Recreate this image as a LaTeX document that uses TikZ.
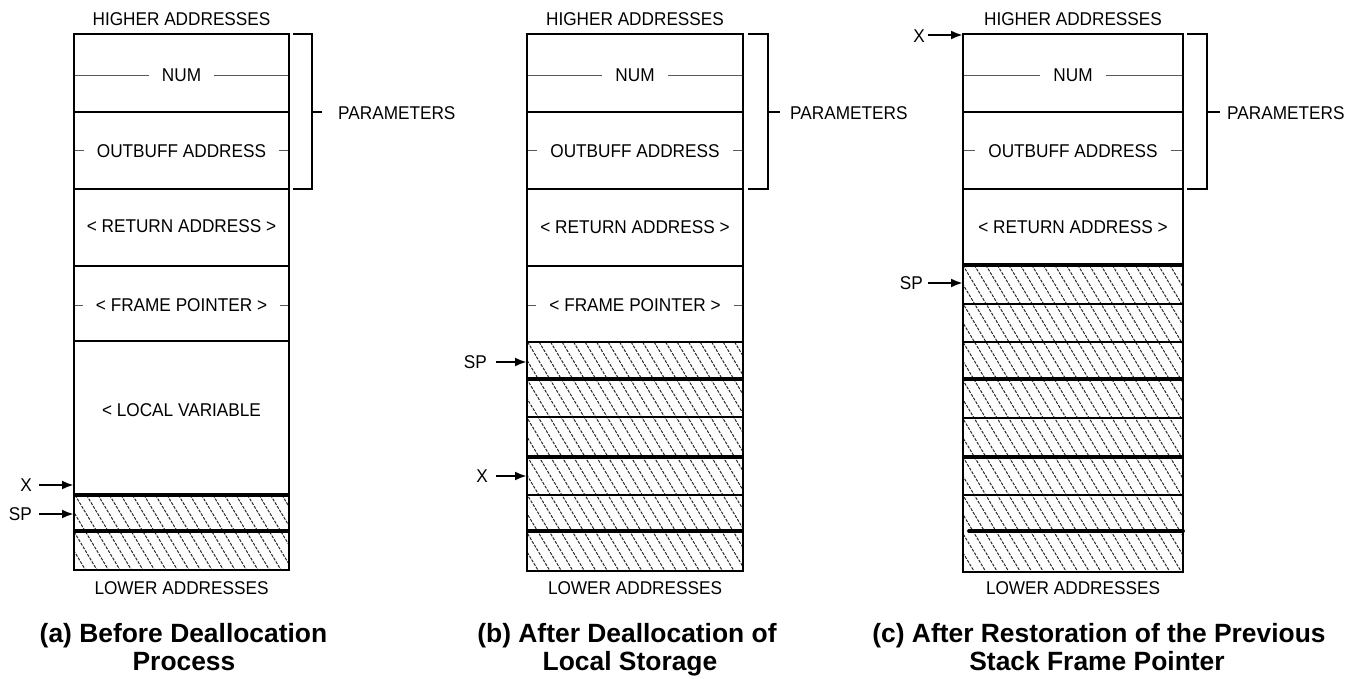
\documentclass[tikz,border=0pt]{standalone}
\usepackage{fontspec}
\setmainfont{Liberation Sans}
\newfontfamily\labfont[FakeStretch=0.93]{Liberation Sans}
\usetikzlibrary{arrows.meta}
\tikzset{
 lab/.style={font=\labfont\fontsize{18.5}{20}\selectfont, inner sep=0pt},
 masked/.style={lab, fill=white, inner xsep=13pt, inner ysep=2pt},
 capt/.style={font=\bfseries\fontsize{26.4}{28}\selectfont, inner sep=0pt, anchor=base},
 midline/.style={line width=1pt, black!65},
 sepn/.style={line width=2.2pt},
 sept/.style={line width=3.8pt},
 outerbox/.style={line width=2.5pt},
 bracketline/.style={line width=2.4pt},
 ptr/.style={line width=2.6pt, -{Latex[length=12pt,width=9pt]}},
 hatchline/.style={line width=1pt, black!85, dash pattern=on 3pt off 1.3pt},
}
\newcommand\hatchbox[4]{%
 \begin{scope}
 \clip (#1,#2) rectangle (#3,#4);
 \pgfmathsetmacro\hh{#4-#2}
 \pgfmathsetmacro\xs{#1-0.6*\hh}
 \pgfmathsetmacro\xsb{\xs+11.5}
 \foreach \xx in {\xs,\xsb,...,#3} { \draw[hatchline] (\xx,#2) -- ++(0.6*\hh,\hh); }
 \end{scope}}
\begin{document}
\begin{tikzpicture}[x=1pt,y=-1pt]
\useasboundingbox (0,0) rectangle (1359,679);

% ================= Panel (a) =================
\hatchbox{74}{495}{289}{570}
\node[lab] (aHi) at (181.5,19.5) {HIGHER ADDRESSES};
\draw[midline] (74,75.5) -- (289,75.5);
\node[masked] (aNum) at (181.5,75.5) {NUM};
\draw[midline] (74,151) -- (289,151);
\node[masked] (aOut) at (181.5,151) {OUTBUFF ADDRESS};
\node[lab] (aRet) at (181.5,226.5) {< RETURN ADDRESS >};
\draw[midline] (74,305) -- (289,305);
\node[masked] (aFp) at (181.5,305) {< FRAME POINTER >};
\node[lab] (aLoc) at (181.5,410) {< LOCAL VARIABLE};
\node[lab] (aLo) at (181.5,588) {LOWER ADDRESSES};
\draw[sepn] (74,112) -- (289,112);
\draw[sepn] (74,189) -- (289,189);
\draw[sepn] (74,266) -- (289,266);
\draw[sepn] (74,341) -- (289,341);
\draw[sept] (74,495) -- (289,495);
\draw[sept] (74,531) -- (289,531);
\draw[outerbox] (74,34) rectangle (289,570);
\draw[bracketline] (293,34) -- (312,34) -- (312,189) -- (293,189);
\draw[bracketline] (312,112) -- (322,112);
\node[lab, anchor=west] (aPar) at (338,113.5) {PARAMETERS};
\coordinate (aXt) at (74,485);
\coordinate (aSPt) at (74,514);
\node[lab, anchor=east] (aX) at (32,485) {X};
\node[lab, anchor=east] (aSP) at (32,514.5) {SP};
\draw[ptr, shorten <=7pt] (aX.east) -- (aXt);
\draw[ptr, shorten <=7pt] (aSP.east |- aSPt) -- (aSPt);
\node[capt] (aCap1) at (183.5,642) {(a) Before Deallocation};
\node[capt] (aCap2) at (184,670) {Process};

% ================= Panel (b) =================
\hatchbox{527}{342}{743}{571}
\node[lab] (bHi) at (635,19.5) {HIGHER ADDRESSES};
\draw[midline] (527,75.5) -- (743,75.5);
\node[masked] (bNum) at (635,75.5) {NUM};
\draw[midline] (527,151) -- (743,151);
\node[masked] (bOut) at (635,151) {OUTBUFF ADDRESS};
\node[lab] (bRet) at (635,227) {< RETURN ADDRESS >};
\draw[midline] (527,305) -- (743,305);
\node[masked] (bFp) at (635,305) {< FRAME POINTER >};
\node[lab] (bLo) at (635,588) {LOWER ADDRESSES};
\draw[sepn] (527,112) -- (743,112);
\draw[sepn] (527,189) -- (743,189);
\draw[sepn] (527,266) -- (743,266);
\draw[line width=2.8pt] (527,342) -- (743,342);
\draw[sept] (527,379) -- (743,379);
\draw[sepn] (527,417) -- (743,417);
\draw[sept] (527,457) -- (743,457);
\draw[sepn] (527,495) -- (743,495);
\draw[sept] (527,531) -- (743,531);
\draw[outerbox] (527,34) rectangle (743,571);
\draw[bracketline] (748,34) -- (768,34) -- (768,189) -- (748,189);
\draw[bracketline] (768,112) -- (780,112);
\node[lab, anchor=west] (bPar) at (790,113.5) {PARAMETERS};
\coordinate (bSPt) at (527,362);
\coordinate (bXt) at (527,476);
\node[lab, anchor=east] (bSP) at (487,362) {SP};
\node[lab, anchor=east] (bX) at (488,476) {X};
\draw[ptr, shorten <=9pt] (bSP.east) -- (bSPt);
\draw[ptr, shorten <=8pt] (bX.east) -- (bXt);
\node[capt] (bCap1) at (627,642) {(b) After Deallocation of};
\node[capt] (bCap2) at (630,670) {Local Storage};

% ================= Panel (c) =================
\hatchbox{963}{265}{1183}{572}
\node[lab] (cHi) at (1073,19.5) {HIGHER ADDRESSES};
\draw[midline] (963,75.5) -- (1183,75.5);
\node[masked] (cNum) at (1073,75.5) {NUM};
\draw[midline] (963,151) -- (1183,151);
\node[masked] (cOut) at (1073,151) {OUTBUFF ADDRESS};
\node[lab] (cRet) at (1073,227) {< RETURN ADDRESS >};
\node[lab] (cLo) at (1073,588) {LOWER ADDRESSES};
\draw[sepn] (963,112) -- (1183,112);
\draw[sepn] (963,189) -- (1183,189);
\draw[sept] (963,265) -- (1183,265);
\draw[sepn] (963,304) -- (1183,304);
\draw[sepn] (963,342) -- (1183,342);
\draw[sept] (963,379) -- (1183,379);
\draw[sepn] (963,418) -- (1183,418);
\draw[sept] (963,457) -- (1183,457);
\draw[sepn] (963,495) -- (1183,495);
\draw[sept, line cap=round] (969,531) -- (1183,531);
\draw[outerbox] (963,34) rectangle (1183,572);
\draw[bracketline] (1187,34) -- (1207,34) -- (1207,189) -- (1187,189);
\draw[bracketline] (1207,112) -- (1220,112);
\node[lab, anchor=west] (cPar) at (1227,113.5) {PARAMETERS};
\coordinate (cXt) at (963,35);
\coordinate (cSPt) at (963,283);
\node[lab, anchor=east] (cX) at (925,36) {X};
\node[lab, anchor=east] (cSP) at (923,283) {SP};
\draw[ptr, shorten <=3pt] (cX.east |- cXt) -- (cXt);
\draw[ptr, shorten <=5pt] (cSP.east) -- (cSPt);
\node[capt] (cCap1) at (1099,642) {(c) After Restoration of the Previous};
\node[capt] (cCap2) at (1097,670) {Stack Frame Pointer};
\end{tikzpicture}
\end{document}
